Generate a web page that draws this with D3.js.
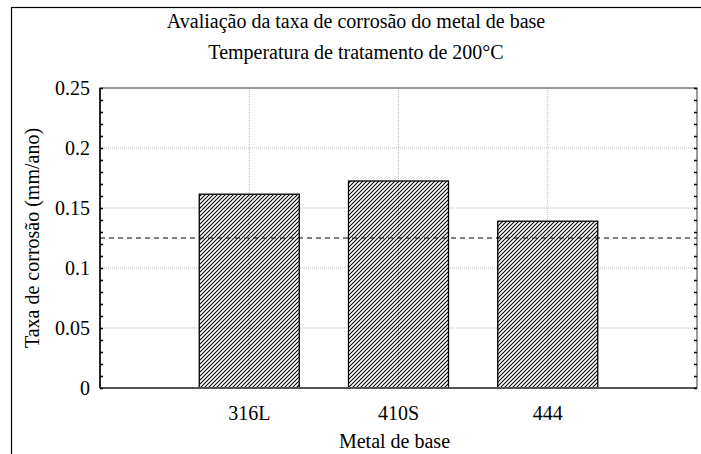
<!DOCTYPE html>
<html>
<head>
<meta charset="utf-8">
<script src="https://cdn.jsdelivr.net/npm/d3@7"></script>
<style>
  body { margin: 0; background: #fff; }
</style>
</head>
<body>
<div id="chart"></div>
<script>
// data
const categories = ["316L", "410S", "444"];
const rates = [0.1615, 0.1725, 0.139];
const refLine = 0.125;
const yTicks = [0, 0.05, 0.1, 0.15, 0.2, 0.25];
const yTickLabels = ["0", "0.05", "0.1", "0.15", "0.2", "0.25"];
const titleLines = ["Avaliação da taxa de corrosão do metal de base", "Temperatura de tratamento de 200°C"];

var FONT = "'Liberation Serif', 'Times New Roman', serif";
var W = 701, H = 454;
var margin = { top: 88, right: 4, bottom: 66, left: 100 },
    width = W - margin.left - margin.right,
    height = H - margin.top - margin.bottom;

var svg = d3.select("#chart").append("svg")
    .attr("width", W).attr("height", H);

// hatch pattern
var defs = svg.append("defs");
defs.append("pattern")
    .attr("id", "hatch")
    .attr("patternUnits", "userSpaceOnUse")
    .attr("width", 4).attr("height", 4)
    .append("path")
    .attr("d", "M-1,1 l2,-2 M0,4 l4,-4 M3,5 l2,-2")
    .attr("stroke", "#000").attr("stroke-width", 1.05);

// outer frame
svg.append("rect")
    .attr("x", 11.5).attr("y", 7.5)
    .attr("width", W).attr("height", H)
    .attr("fill", "none").attr("stroke", "#000").attr("stroke-width", 1.2);

var g = svg.append("g")
    .attr("transform", "translate(" + margin.left + "," + margin.top + ")");

// x positions 0..4 with categories at 1,2,3
var x = d3.scaleLinear().domain([0, categories.length + 1]).range([0, width]);
var y = d3.scaleLinear().domain([0, 0.25]).range([height, 0]);

// grid
g.append("g").selectAll("line").data(yTicks.slice(1, -1)).join("line")
    .attr("x1", 0).attr("x2", width)
    .attr("y1", d => y(d)).attr("y2", d => y(d))
    .attr("stroke", "#bbb").attr("stroke-dasharray", "1,1");
g.append("g").selectAll("line").data(categories).join("line")
    .attr("x1", (d, i) => x(i + 1)).attr("x2", (d, i) => x(i + 1))
    .attr("y1", 0).attr("y2", height)
    .attr("stroke", "#bbb").attr("stroke-dasharray", "1,1");

// bars
var bw = x(0.67) - x(0);
g.append("g").selectAll("rect").data(rates).join("rect")
    .attr("x", (d, i) => x(i + 1) - bw / 2)
    .attr("y", d => y(d))
    .attr("width", bw)
    .attr("height", d => height - y(d))
    .attr("fill", "url(#hatch)")
    .attr("stroke", "#000").attr("stroke-width", 1.3);

// reference line
g.append("line")
    .attr("x1", 0).attr("x2", width)
    .attr("y1", y(refLine)).attr("y2", y(refLine))
    .attr("stroke", "#000").attr("stroke-width", 1.2)
    .attr("stroke-dasharray", "5,4");

// plot box
g.append("rect")
    .attr("x", 0).attr("y", 0).attr("width", width).attr("height", height)
    .attr("fill", "none").attr("stroke", "#333").attr("stroke-width", 1);
g.append("line").attr("x1", 0).attr("x2", 0).attr("y1", 0).attr("y2", height)
    .attr("stroke", "#000").attr("stroke-width", 1.5);
g.append("line").attr("x1", 0).attr("x2", width).attr("y1", height).attr("y2", height)
    .attr("stroke", "#555").attr("stroke-width", 2);

// y axis with minor ticks
var minor = d3.range(0, 0.2501, 0.01);
var yAxis = d3.axisLeft(y).tickValues(minor).tickSize(-3)
    .tickFormat(d => {
        var k = yTicks.findIndex(t => Math.abs(t - d) < 1e-9);
        return k >= 0 ? yTickLabels[k] : "";
    });
var ya = g.append("g").call(yAxis);
ya.select(".domain").remove();
ya.selectAll("line").attr("stroke", "#000").attr("stroke-width", 1.5);
ya.selectAll("text").attr("x", -10).attr("fill", "#000")
    .style("font-family", FONT).style("font-size", "20px");

var yr = g.append("g").attr("transform", "translate(" + width + ",0)")
    .call(d3.axisRight(y).tickValues(minor).tickSize(-3).tickFormat(""));
yr.select(".domain").remove();
yr.selectAll("line").attr("stroke", "#000").attr("stroke-width", 1.5);

// x tick labels
g.append("g").selectAll("text").data(categories).join("text")
    .attr("x", (d, i) => x(i + 1)).attr("y", height + 32)
    .attr("text-anchor", "middle")
    .style("font-family", FONT).style("font-size", "20px")
    .text(d => d);

// axis titles
g.append("text")
    .attr("x", width / 2 - 4).attr("y", height + 60)
    .attr("text-anchor", "middle")
    .style("font-family", FONT).style("font-size", "20px")
    .text("Metal de base");
g.append("text")
    .attr("transform", "translate(" + (-61) + "," + (height / 2) + ") rotate(-90)")
    .attr("text-anchor", "middle")
    .style("font-family", FONT).style("font-size", "20px")
    .text("Taxa de corrosão (mm/ano)");

// title
svg.selectAll(".title").data(titleLines).join("text")
    .attr("class", "title")
    .attr("x", 356).attr("y", (d, i) => 28 + i * 31)
    .attr("text-anchor", "middle")
    .style("font-family", FONT).style("font-size", "20px")
    .text(d => d);
</script>
</body>
</html>
